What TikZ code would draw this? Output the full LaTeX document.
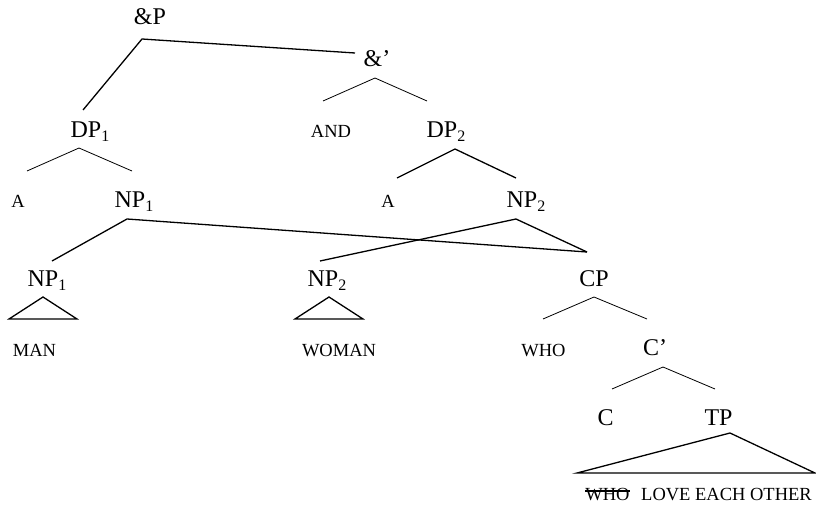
\documentclass[tikz,border=0pt]{standalone}
\usepackage{fontspec}
\setmainfont{Liberation Serif}
\newcommand\subidx[1]{\raisebox{-4.5pt}{\fontsize{16}{16}\selectfont #1}}

\begin{document}
\begin{tikzpicture}[x=1pt,y=-1pt,
  cat/.style={anchor=base,inner sep=0pt,font=\fontsize{24}{28}\selectfont},
  word/.style={anchor=base,inner sep=0pt,font=\fontsize{18.5}{22}\selectfont},
  thinbranch/.style={line width=0.8pt},
  boldbranch/.style={line width=1.3pt}]
  \useasboundingbox (0,0) rectangle (816,508);

  \node[cat] (andP) at (150,25) {\&P};
  \node[cat] (andbar) at (377,67) {\&'};
  \node[cat] (dpone) at (90,137) {DP\subidx{1}};
  \node[word] (andword) at (331,137) {AND};
  \node[cat] (dptwo) at (446,137) {DP\subidx{2}};
  \node[word] (aone) at (18,207) {A};
  \node[cat] (npone) at (134,207) {NP\subidx{1}};
  \node[word] (atwo) at (388,207) {A};
  \node[cat] (nptwo) at (526,207) {NP\subidx{2}};
  \node[cat] (nponelow) at (47,286) {NP\subidx{1}};
  \node[cat] (nptwolow) at (327,286) {NP\subidx{2}};
  \node[cat] (cp) at (594,286) {CP};
  \node[word] (man) at (34.5,356) {MAN};
  \node[word] (woman) at (339,356) {WOMAN};
  \node[word] (who) at (543.5,356) {WHO};
  \node[cat] (cbar) at (655,355) {C'};
  \node[cat] (c) at (605.5,425) {C};
  \node[cat] (tp) at (718.5,425) {TP};
  \node[word] (whostruck) at (607.5,500) {WHO};
  \node[word] (tpwords) at (726.5,500) {LOVE EACH OTHER};
  \draw[boldbranch] ([yshift=3]whostruck.west) -- ([yshift=3]whostruck.east);

  \coordinate (andP-top) at (142,39);
  \coordinate (andbar-end) at (355,53);
  \coordinate (dpone-end) at (83,110);
  \coordinate (andbar-top) at (375,78);
  \coordinate (andword-end) at (323,101);
  \coordinate (dptwo-end) at (427,101);
  \coordinate (dpone-top) at (79,148);
  \coordinate (aone-end) at (27,171);
  \coordinate (npone-end) at (132,171);
  \coordinate (dptwo-top) at (455,149);
  \coordinate (atwo-end) at (397,178);
  \coordinate (nptwo-end) at (516,178);
  \coordinate (npone-top) at (127,219);
  \coordinate (nponelow-end) at (52,261);
  \coordinate (cp-end) at (587,252);
  \coordinate (nptwo-top) at (516,219);
  \coordinate (nptwolow-end) at (320,261);
  \coordinate (cp-top) at (594,297);
  \coordinate (who-end) at (543,319);
  \coordinate (cbar-end) at (647,319);
  \coordinate (cbar-top) at (663,367);
  \coordinate (c-end) at (612,389);
  \coordinate (tp-end) at (715,389);

  \draw[boldbranch] (dpone-end) -- (andP-top) -- (andbar-end);
  \draw[thinbranch] (andword-end) -- (andbar-top) -- (dptwo-end);
  \draw[thinbranch] (aone-end) -- (dpone-top) -- (npone-end);
  \draw[boldbranch] (atwo-end) -- (dptwo-top) -- (nptwo-end);
  \draw[boldbranch] (nponelow-end) -- (npone-top) -- (cp-end);
  \draw[boldbranch] (nptwolow-end) -- (nptwo-top) -- (cp-end);
  \draw[thinbranch] (who-end) -- (cp-top) -- (cbar-end);
  \draw[thinbranch] (c-end) -- (cbar-top) -- (tp-end);

  \draw[boldbranch] (43,297) -- (77,319) -- (9,319) -- cycle;
  \draw[boldbranch] (329,297) -- (363,319) -- (295,319) -- cycle;
  \draw[boldbranch] (730,433) -- (815,473) -- (577,473) -- cycle;
\end{tikzpicture}
\end{document}
